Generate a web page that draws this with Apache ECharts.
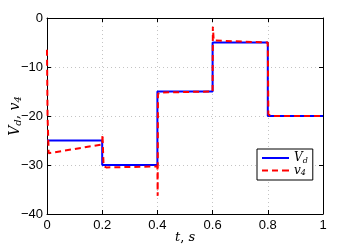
<!DOCTYPE html>
<html><head><meta charset="utf-8">
<script src="https://cdn.jsdelivr.net/npm/echarts@6/dist/echarts.min.js"></script>
<style>html,body{margin:0;padding:0;background:#fff}#c{width:357px;height:245px}</style>
</head><body><div id="c"></div>
<script>
// Reference step command V_d
const vdTime = [0, 0.2, 0.2, 0.4, 0.4, 0.6, 0.6, 0.8, 0.8, 1];
const vdValue = [-25, -25, -30, -30, -15, -15, -5, -5, -20, -20];
// Response v_4
const v4Time = [0, 0.002, 0.006, 0.2, 0.201, 0.205, 0.215, 0.4, 0.401, 0.402, 0.41, 0.6, 0.601, 0.604, 0.61, 0.8, 0.802, 0.81, 1];
const v4Value = [-6.5, -20, -27.6, -25.8, -23.8, -30.2, -30.5, -30.3, -36.3, -15.5, -15.2, -15, -1.8, -4.6, -5, -5, -19.6, -20, -20];
const xTicks = [0, 0.2, 0.4, 0.6, 0.8, 1];
const yTicks = [-40, -30, -20, -10, 0];

const pair = (t, v) => t.map((x, i) => [x, v[i]]);
const fmtY = v => String(v).replace('-', '\u2212');
const serif = 'DejaVu Serif';
const chart = echarts.init(document.getElementById('c'));
chart.setOption({
  animation: false,
  backgroundColor: '#fff',
  grid: {left: 47, right: 34, top: 18, bottom: 31, containLabel: false, outerBoundsMode: 'none'},
  xAxis: [{
    type: 'value', min: xTicks[0], max: xTicks[xTicks.length - 1], interval: 0.2,
    axisLine: {show: true, onZero: false, lineStyle: {color: '#000', width: 1}},
    axisTick: {show: true, inside: true, length: 4, lineStyle: {color: '#000'}},
    axisLabel: {color: '#000', fontSize: 13, fontFamily: 'Liberation Sans', margin: 5, formatter: v => String(v)},
    splitLine: {show: true, lineStyle: {color: '#c4c4c4', type: [1, 3], width: 1}},
    name: '{i|t}{n|, }{i|s}', nameLocation: 'middle', nameGap: 17, nameMoveOverlap: false,
    nameTextStyle: {rich: {i: {fontFamily: serif, fontStyle: 'italic', fontSize: 13, color: '#000'}, n: {fontFamily: serif, fontSize: 13, color: '#000'}}}
  }, {
    type: 'value', position: 'top', min: 0, max: 1, interval: 0.2,
    axisLine: {show: true, onZero: false, lineStyle: {color: '#000', width: 1}},
    axisTick: {show: true, inside: true, length: 4, lineStyle: {color: '#000'}},
    axisLabel: {show: false}, splitLine: {show: false}
  }],
  yAxis: [{
    type: 'value', min: yTicks[0], max: yTicks[yTicks.length - 1], interval: 10,
    axisLine: {show: true, onZero: false, lineStyle: {color: '#000', width: 1}},
    axisTick: {show: true, inside: true, length: 4, lineStyle: {color: '#000'}},
    axisLabel: {color: '#000', fontSize: 13, fontFamily: 'Liberation Sans', margin: 4, formatter: fmtY},
    splitLine: {show: true, lineStyle: {color: '#c4c4c4', type: [1, 3], width: 1}},
    name: '{i|V}{s|d}{n|, }{i|v}{s|4}', nameLocation: 'middle', nameRotate: 90, nameGap: 24, nameMoveOverlap: false,
    nameTextStyle: {rich: {
      i: {fontFamily: serif, fontStyle: 'italic', fontSize: 14, color: '#000'},
      s: {fontFamily: serif, fontStyle: 'italic', fontSize: 10, color: '#000', padding: [6, 0, 0, 0]},
      n: {fontFamily: serif, fontSize: 14, color: '#000'}}}
  }, {
    type: 'value', position: 'right', min: -40, max: 0, interval: 10,
    axisLine: {show: true, onZero: false, lineStyle: {color: '#000', width: 1}},
    axisTick: {show: true, inside: true, length: 4, lineStyle: {color: '#000'}},
    axisLabel: {show: false}, splitLine: {show: false}
  }],
  legend: {
    left: 257, top: 149, orient: 'vertical', padding: [3, 5, 3, 5], itemGap: 0,
    itemWidth: 27, itemHeight: 2,
    backgroundColor: '#fff', borderColor: '#000', borderWidth: 1,
    data: [
      {name: 'Vd', icon: 'rect'},
      {name: 'v4', icon: 'path://M0,0h6v2h-6zM10,0h6v2h-6zM20,0h7v2h-7z'}
    ],
    formatter: n => n === 'Vd' ? '{i|V}{s|d}' : '{i|v}{s|4}',
    textStyle: {rich: {
      i: {fontFamily: serif, fontStyle: 'italic', fontSize: 12, color: '#000'},
      s: {fontFamily: serif, fontStyle: 'italic', fontSize: 8, color: '#000', padding: [5, 0, 0, 0]}}}
  },
  series: [{
    name: 'Vd', type: 'line', data: pair(vdTime, vdValue), showSymbol: false, symbol: 'none',
    lineStyle: {color: '#0000ff', width: 2}, itemStyle: {color: '#0000ff'}, z: 2
  }, {
    name: 'v4', type: 'line', data: pair(v4Time, v4Value), showSymbol: false, symbol: 'none',
    lineStyle: {color: '#ff0000', width: 2, type: [6, 4]}, itemStyle: {color: '#ff0000'}, z: 3
  }]
});
</script></body></html>
